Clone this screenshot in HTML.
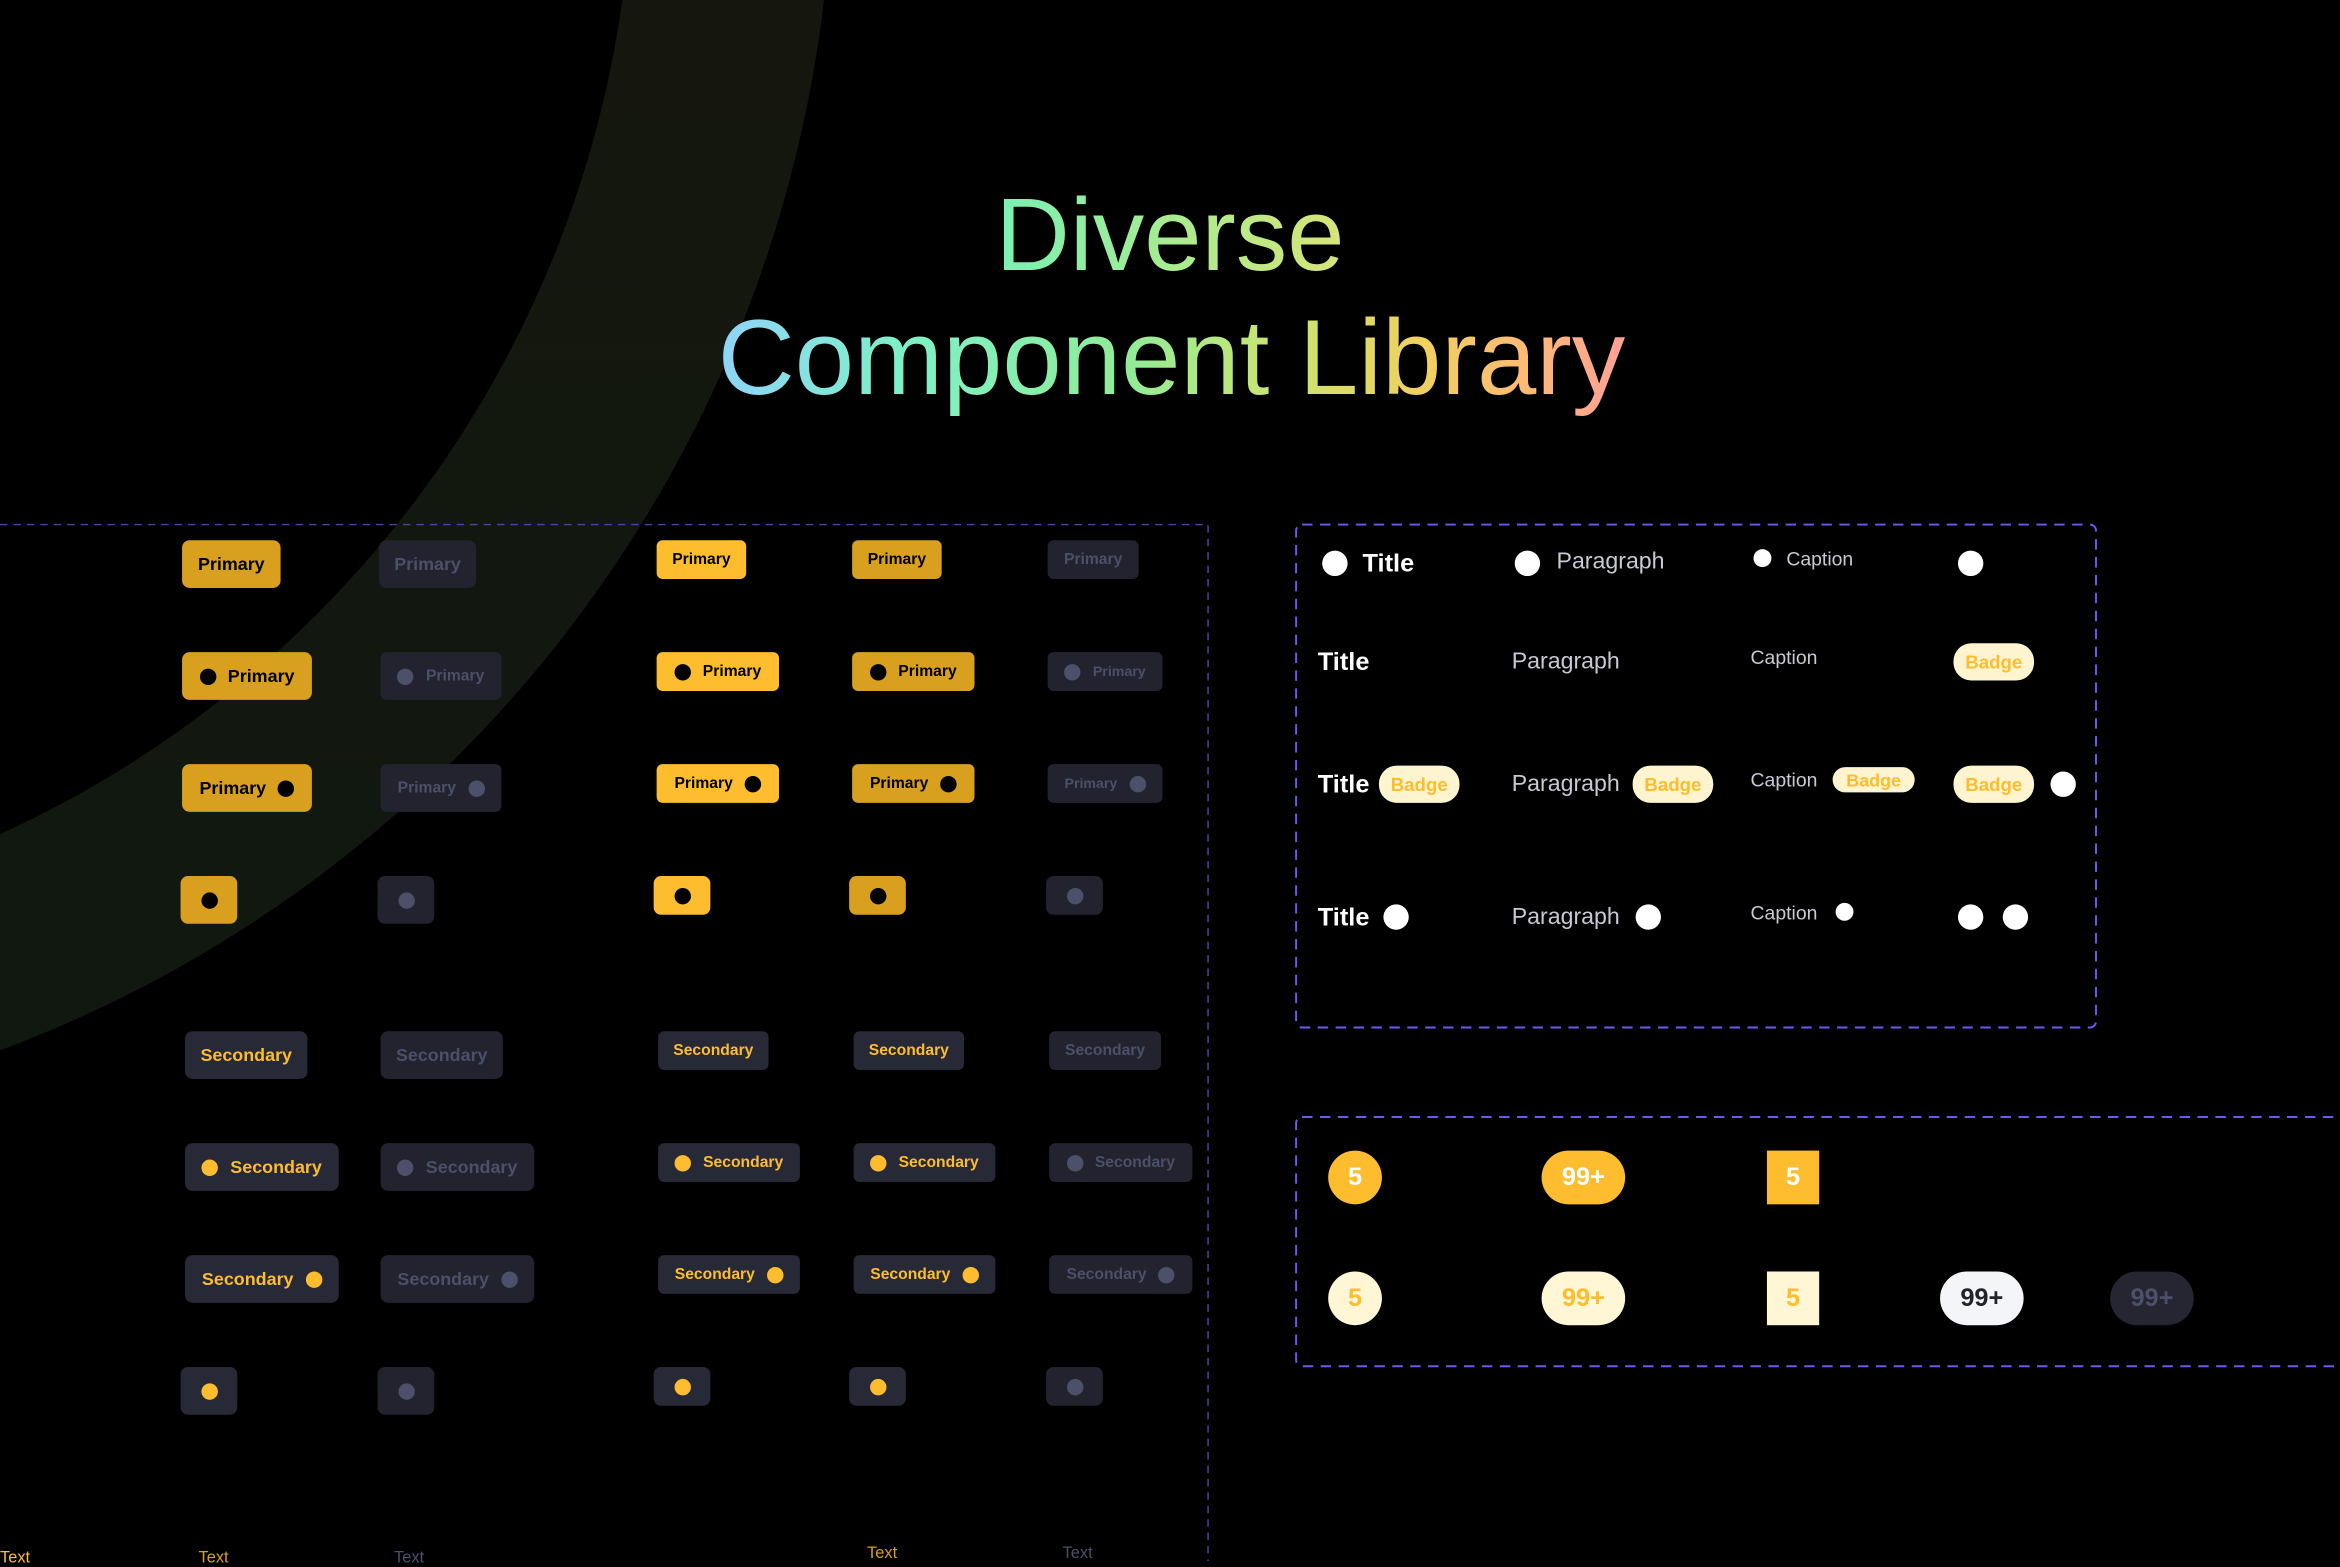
<!DOCTYPE html>
<html><head><meta charset="utf-8"><style>
html,body{margin:0;padding:0;background:#000;width:2340px;height:1560px;overflow:hidden}
#w{position:absolute;left:0;top:0;width:1568px;height:1046px;transform:scale(1.492347);transform-origin:0 0;font-family:"Liberation Sans",sans-serif}
.b{position:absolute;display:flex;align-items:center;justify-content:center;gap:8px;border-radius:5px;font-weight:bold;font-size:12px;box-sizing:border-box;white-space:nowrap}
.sm{font-size:10.5px;border-radius:4px}
.g1{background:#d9a020;color:#000}
.g2{background:#fdbd2f;color:#000}
.d{background:#22232f;color:#4c5068}
.s{background:#272936;color:#fdbd2f}
.sd{background:#22232f;color:#4c5068}
.dt{width:11px;height:11px;border-radius:50%;background:currentColor;flex:none}
.d .dt,.sd .dt{background:#4c5068}
.t{position:absolute;white-space:nowrap}
.wc{position:absolute;border-radius:50%;background:#fff}
.bdg{position:absolute;background:#fff4d0;color:#fdbd2f;font-weight:bold;font-size:12.5px;border-radius:12px;display:flex;align-items:center;justify-content:center}
.n{position:absolute;display:flex;align-items:center;justify-content:center;font-weight:bold;font-size:17px}
</style></head><body><div id="w">
<svg width="1568" height="1046" style="position:absolute;left:0;top:0">
<defs><linearGradient id="ag" x1="0" y1="0" x2="0" y2="1"><stop offset="0" stop-color="#1a1410"/><stop offset="0.5" stop-color="#16170e"/><stop offset="1" stop-color="#101810"/></linearGradient></defs>
<circle cx="-300" cy="-100" r="791" fill="none" stroke="url(#ag)" stroke-width="134"/>
<path d="M0 351.5 H809.5 V1046" fill="none" stroke="#4b43a8" stroke-width="1" stroke-dasharray="5 4"/>
<rect x="868.5" y="351.5" width="536" height="337" rx="4" fill="none" stroke="#6a5af0" stroke-width="1.3" stroke-dasharray="7 5"/>
<rect x="868.5" y="748.5" width="760" height="167" rx="4" fill="none" stroke="#6a5af0" stroke-width="1.3" stroke-dasharray="7 5"/>
</svg>
<div class="t" style="left:0;width:1568px;text-align:center;top:118px;font-size:69px;line-height:80px"><span style="background:linear-gradient(90deg,#78f0b4,#a8ec90,#d8e478);-webkit-background-clip:text;background-clip:text;color:transparent">Diverse</span></div>
<div class="t" style="left:0;width:1570px;text-align:center;top:200px;font-size:71.5px;line-height:80px"><span style="background:linear-gradient(90deg,#90d4f8,#7ef0c8 20%,#90ec98 45%,#cce470 62%,#f0d060 78%,#ffb878 90%,#ffa098);-webkit-background-clip:text;background-clip:text;color:transparent">Component Library</span></div>

<div class="b g1" style="left:122px;top:362px;width:66px;height:32px">Primary</div>
<div class="b d" style="left:254px;top:362px;width:65px;height:32px">Primary</div>
<div class="b g1" style="left:122px;top:437px;width:87px;height:32px"><span class="dt"></span>Primary</div>
<div class="b d sm" style="left:255px;top:437px;width:81px;height:32px"><span class="dt"></span>Primary</div>
<div class="b g1" style="left:122px;top:512px;width:87px;height:32px">Primary<span class="dt"></span></div>
<div class="b d sm" style="left:255px;top:512px;width:81px;height:32px">Primary<span class="dt"></span></div>
<div class="b g1" style="left:121px;top:587px;width:38px;height:32px"><span class="dt"></span></div>
<div class="b d" style="left:253px;top:587px;width:38px;height:32px"><span class="dt"></span></div>

<div class="b g2 sm" style="left:440px;top:362px;width:60px;height:26px">Primary</div>
<div class="b g1 sm" style="left:571px;top:362px;width:60px;height:26px">Primary</div>
<div class="b d sm" style="left:702px;top:362px;width:61px;height:26px">Primary</div>
<div class="b g2 sm" style="left:440px;top:437px;width:82px;height:26px"><span class="dt"></span>Primary</div>
<div class="b g1 sm" style="left:571px;top:437px;width:82px;height:26px"><span class="dt"></span>Primary</div>
<div class="b d sm" style="left:702px;top:437px;width:77px;height:26px;font-size:9.5px"><span class="dt"></span>Primary</div>
<div class="b g2 sm" style="left:440px;top:512px;width:82px;height:26px">Primary<span class="dt"></span></div>
<div class="b g1 sm" style="left:571px;top:512px;width:82px;height:26px">Primary<span class="dt"></span></div>
<div class="b d sm" style="left:702px;top:512px;width:77px;height:26px;font-size:9.5px">Primary<span class="dt"></span></div>
<div class="b g2" style="left:438px;top:587px;width:38px;height:26px"><span class="dt"></span></div>
<div class="b g1" style="left:569px;top:587px;width:38px;height:26px"><span class="dt"></span></div>
<div class="b d" style="left:701px;top:587px;width:38px;height:26px"><span class="dt"></span></div>

<div class="b s" style="left:124px;top:691px;width:82px;height:32px">Secondary</div>
<div class="b sd" style="left:255px;top:691px;width:82px;height:32px">Secondary</div>
<div class="b s" style="left:124px;top:766px;width:103px;height:32px"><span class="dt"></span>Secondary</div>
<div class="b sd" style="left:255px;top:766px;width:103px;height:32px"><span class="dt"></span>Secondary</div>
<div class="b s" style="left:124px;top:841px;width:103px;height:32px">Secondary<span class="dt"></span></div>
<div class="b sd" style="left:255px;top:841px;width:103px;height:32px">Secondary<span class="dt"></span></div>
<div class="b s" style="left:121px;top:916px;width:38px;height:32px"><span class="dt"></span></div>
<div class="b sd" style="left:253px;top:916px;width:38px;height:32px"><span class="dt"></span></div>

<div class="b s sm" style="left:441px;top:691px;width:74px;height:26px">Secondary</div>
<div class="b s sm" style="left:572px;top:691px;width:74px;height:26px">Secondary</div>
<div class="b sd sm" style="left:703px;top:691px;width:75px;height:26px">Secondary</div>
<div class="b s sm" style="left:441px;top:766px;width:95px;height:26px"><span class="dt"></span>Secondary</div>
<div class="b s sm" style="left:572px;top:766px;width:95px;height:26px"><span class="dt"></span>Secondary</div>
<div class="b sd sm" style="left:703px;top:766px;width:96px;height:26px"><span class="dt"></span>Secondary</div>
<div class="b s sm" style="left:441px;top:841px;width:95px;height:26px">Secondary<span class="dt"></span></div>
<div class="b s sm" style="left:572px;top:841px;width:95px;height:26px">Secondary<span class="dt"></span></div>
<div class="b sd sm" style="left:703px;top:841px;width:96px;height:26px">Secondary<span class="dt"></span></div>
<div class="b s" style="left:438px;top:916px;width:38px;height:26px"><span class="dt"></span></div>
<div class="b s" style="left:569px;top:916px;width:38px;height:26px"><span class="dt"></span></div>
<div class="b sd" style="left:701px;top:916px;width:38px;height:26px"><span class="dt"></span></div>

<div class="t" style="left:0;top:1038px;font-size:11px;color:#fdbd2f">Text</div>
<div class="t" style="left:133px;top:1038px;font-size:11px;color:#d9a020">Text</div>
<div class="t" style="left:264px;top:1038px;font-size:11px;color:#4c5068">Text</div>
<div class="t" style="left:581px;top:1035px;font-size:11px;color:#d9a020">Text</div>
<div class="t" style="left:712px;top:1035px;font-size:11px;color:#4c5068">Text</div>

<div class="wc" style="left:886px;top:369px;width:17px;height:17px"></div>
<div class="t" style="left:913px;top:368px;font-size:17px;font-weight:bold;color:#fff">Title</div>
<div class="wc" style="left:1015px;top:369px;width:17px;height:17px"></div>
<div class="t" style="left:1043px;top:368px;font-size:15.5px;color:#c8c8d6">Paragraph</div>
<div class="wc" style="left:1175px;top:368px;width:12px;height:12px"></div>
<div class="t" style="left:1197px;top:367px;font-size:13px;color:#c8c8d6">Caption</div>
<div class="wc" style="left:1312px;top:369px;width:17px;height:17px"></div>

<div class="t" style="left:883px;top:434px;font-size:17px;font-weight:bold;color:#fff">Title</div>
<div class="t" style="left:1013px;top:435px;font-size:15.5px;color:#c8c8d6">Paragraph</div>
<div class="t" style="left:1173px;top:433px;font-size:13px;color:#c8c8d6">Caption</div>
<div class="bdg" style="left:1309px;top:431px;width:54px;height:25px">Badge</div>

<div class="t" style="left:883px;top:516px;font-size:17px;font-weight:bold;color:#fff">Title</div>
<div class="bdg" style="left:924px;top:513px;width:54px;height:25px">Badge</div>
<div class="t" style="left:1013px;top:517px;font-size:15.5px;color:#c8c8d6">Paragraph</div>
<div class="bdg" style="left:1094px;top:513px;width:54px;height:25px">Badge</div>
<div class="t" style="left:1173px;top:515px;font-size:13px;color:#c8c8d6">Caption</div>
<div class="bdg" style="left:1228px;top:514px;width:55px;height:17px;border-radius:9px;font-size:12px">Badge</div>
<div class="bdg" style="left:1309px;top:513px;width:54px;height:25px">Badge</div>
<div class="wc" style="left:1374px;top:517px;width:17px;height:17px"></div>

<div class="t" style="left:883px;top:605px;font-size:17px;font-weight:bold;color:#fff">Title</div>
<div class="wc" style="left:927px;top:606px;width:17px;height:17px"></div>
<div class="t" style="left:1013px;top:606px;font-size:15.5px;color:#c8c8d6">Paragraph</div>
<div class="wc" style="left:1096px;top:606px;width:17px;height:17px"></div>
<div class="t" style="left:1173px;top:604px;font-size:13px;color:#c8c8d6">Caption</div>
<div class="wc" style="left:1230px;top:605px;width:12px;height:12px"></div>
<div class="wc" style="left:1312px;top:606px;width:17px;height:17px"></div>
<div class="wc" style="left:1342px;top:606px;width:17px;height:17px"></div>

<div class="n" style="left:890px;top:771px;width:36px;height:36px;border-radius:50%;background:#fdbd2f;color:#fff">5</div>
<div class="n" style="left:1033px;top:771px;width:56px;height:36px;border-radius:18px;background:#fdbd2f;color:#fff">99+</div>
<div class="n" style="left:1184px;top:771px;width:35px;height:36px;background:#fdbd2f;color:#fff">5</div>
<div class="n" style="left:890px;top:852px;width:36px;height:36px;border-radius:50%;background:#fff6d6;color:#fdbd2f">5</div>
<div class="n" style="left:1033px;top:852px;width:56px;height:36px;border-radius:18px;background:#fff6d6;color:#fdbd2f">99+</div>
<div class="n" style="left:1184px;top:852px;width:35px;height:36px;background:#fff6d6;color:#fdbd2f">5</div>
<div class="n" style="left:1300px;top:852px;width:56px;height:36px;border-radius:18px;background:#f4f5f8;color:#22232f">99+</div>
<div class="n" style="left:1414px;top:852px;width:56px;height:36px;border-radius:18px;background:#252632;color:#4c5068">99+</div>
</div></body></html>
